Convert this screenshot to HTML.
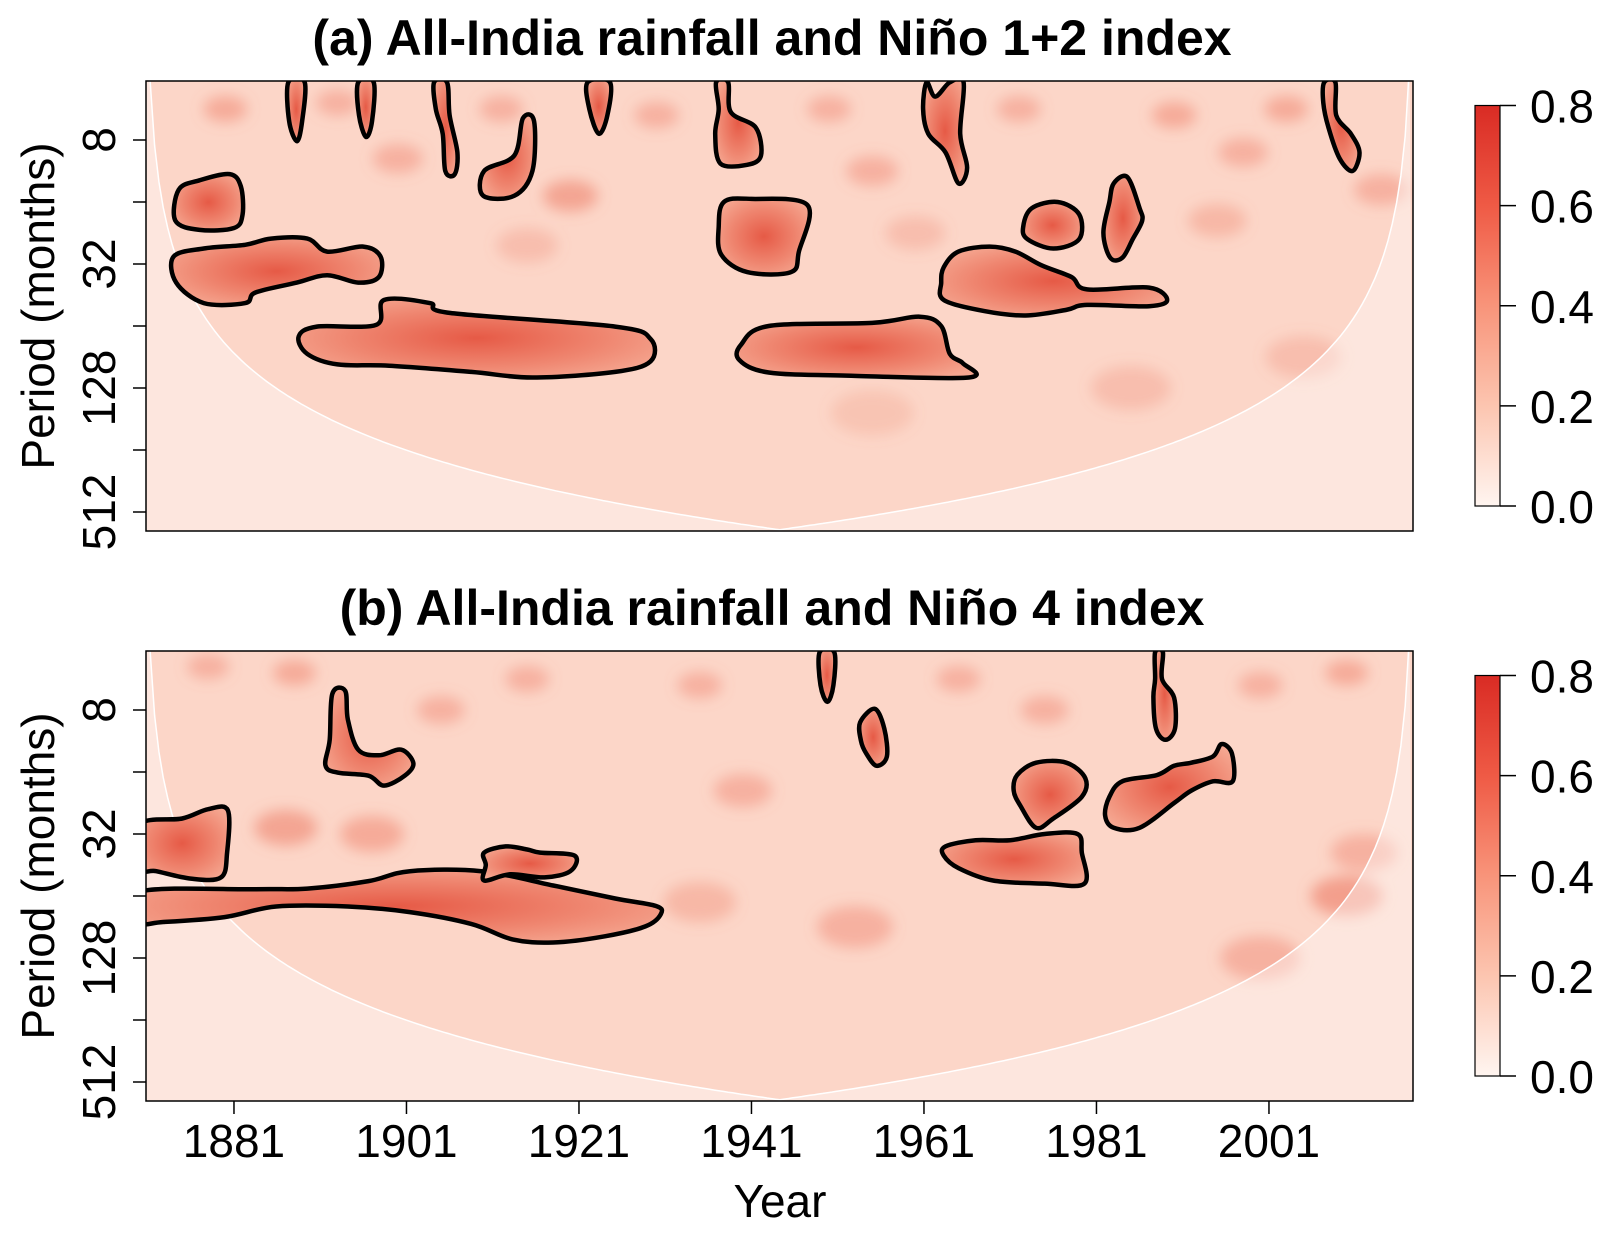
<!DOCTYPE html>
<html><head><meta charset="utf-8"><style>
body{margin:0;background:#fff;overflow:hidden;}
svg{display:block;font-family:"Liberation Sans",sans-serif;}
</style></head><body>
<svg id="chart" width="1610" height="1235" viewBox="0 0 1610 1235">
<defs>
<radialGradient id="blobFill" cx="50%" cy="50%" r="60%">
<stop offset="0" stop-color="#e65a46"/><stop offset="0.6" stop-color="#ef8670"/><stop offset="1" stop-color="#f5a690"/>
</radialGradient>
<linearGradient id="cbar" x1="0" y1="1" x2="0" y2="0">
<stop offset="0" stop-color="#fff5f0"/><stop offset="0.25" stop-color="#fcc5b0"/><stop offset="0.5" stop-color="#f8947a"/><stop offset="0.75" stop-color="#ef5a45"/><stop offset="1" stop-color="#d92b24"/>
</linearGradient>
<filter id="blur" x="-50%" y="-50%" width="200%" height="200%"><feGaussianBlur stdDeviation="7"/></filter>
</defs>
<g id="root"></g>
</svg>
<script>
// ---- data ----
const xTickYears = [1881, 1901, 1921, 1941, 1961, 1981, 2001];
const yTickPeriods = [8, 16, 32, 64, 128, 256, 512];
const yTickLabels = ["8", "", "32", "", "128", "", "512"];
const colorTicks = [0.0, 0.2, 0.4, 0.6, 0.8];
const panelTitles = ["(a) All-India rainfall and Niño 1+2 index", "(b) All-India rainfall and Niño 4 index"];
// significant-coherence contours: [year, log2(period months)]
const contoursA = [
 [[1874.6,3.8],[1877,3.65],[1880.5,3.55],[1881.8,3.75],[1882,4.2],[1881,4.42],[1877,4.45],[1874.2,4.3]],
 [[1874,4.88],[1877.5,4.75],[1882.3,4.69],[1885.3,4.59],[1889.5,4.59],[1891.8,4.8],[1896,4.72],[1898,4.88],[1897.8,5.21],[1895.4,5.3],[1891.8,5.18],[1888.3,5.3],[1883.5,5.46],[1882.3,5.63],[1877.5,5.63],[1874.3,5.3]],
 [[1888.5,6.17],[1890.6,6.01],[1897.5,5.98],[1898.4,5.58],[1903.7,5.63],[1906.1,5.79],[1925.2,6.01],[1929.3,6.21],[1929.3,6.57],[1925.2,6.74],[1915.6,6.83],[1908.5,6.74],[1899,6.64],[1893,6.62],[1889.5,6.45]],
 [[1887.3,2.07],[1889.2,2.07],[1888.9,2.7],[1888.3,3.02],[1887.4,2.7]],
 [[1895.4,2.07],[1897.2,2.07],[1897,2.7],[1896.3,2.95],[1895.5,2.6]],
 [[1904.2,2.07],[1905.7,2.07],[1906,2.6],[1906.9,3.2],[1906.6,3.55],[1905.5,3.5],[1905.2,2.9],[1904.4,2.5]],
 [[1910,3.5],[1913.5,3.25],[1914.5,2.65],[1915.8,2.7],[1915.6,3.5],[1913.5,3.9],[1909.9,3.9]],
 [[1922,2.07],[1924.6,2.07],[1924.3,2.6],[1923.3,2.9],[1922.2,2.5]],
 [[1936.9,2.07],[1938.3,2.07],[1938.6,2.55],[1941.5,2.8],[1942.1,3.25],[1940.5,3.4],[1937.4,3.38],[1936.8,2.9],[1937.2,2.5]],
 [[1937.8,4.0],[1941,3.95],[1947.5,4.05],[1946.5,4.8],[1945.6,5.13],[1940.5,5.13],[1937.5,4.85],[1937.2,4.4]],
 [[1939.8,6.3],[1943,6.0],[1955,5.95],[1960.5,5.85],[1963,6.0],[1964,6.45],[1965.5,6.6],[1966.2,6.83],[1952,6.8],[1943,6.75],[1939.6,6.55]],
 [[1961.3,2.07],[1962.3,2.3],[1964,2.07],[1965.6,2.07],[1965.2,2.9],[1966,3.45],[1965,3.7],[1963.5,3.2],[1961.5,2.9],[1960.9,2.5]],
 [[1963.3,5.05],[1965,4.8],[1968.6,4.72],[1971.6,4.8],[1974.6,5.02],[1978.1,5.21],[1979.9,5.41],[1987.1,5.38],[1989.2,5.58],[1987.1,5.68],[1979.9,5.66],[1977.5,5.74],[1972.8,5.83],[1968,5.76],[1963.3,5.58],[1963,5.3]],
 [[1972.5,4.4],[1973.5,4.1],[1976.5,4.0],[1979,4.2],[1979,4.6],[1976,4.75],[1973,4.6]],
 [[1983,3.7],[1984.6,3.6],[1986,4.1],[1986.3,4.3],[1985.2,4.6],[1984,4.9],[1982.6,4.9],[1981.8,4.5],[1982.5,4.0]],
 [[2007.4,2.07],[2008.7,2.07],[2008.8,2.6],[2010.5,2.9],[2011.5,3.2],[2010.7,3.5],[2009.2,3.3],[2007.9,2.8],[2007.3,2.4]]
];
const contoursB = [
 [[1948.9,2.07],[1950.6,2.07],[1950.5,2.6],[1949.8,2.87],[1949,2.6]],
 [[1953.6,3.2],[1955.3,2.98],[1956.4,3.3],[1956.7,3.75],[1955.5,3.9],[1954.3,3.7],[1953.7,3.5]],
 [[1987.8,2.07],[1988.7,2.07],[1988.6,2.5],[1990,2.8],[1990.1,3.3],[1989,3.48],[1987.9,3.3],[1987.6,2.8],[1987.8,2.5]],
 [[1892.4,2.74],[1893.9,2.69],[1894.2,3.15],[1895.4,3.64],[1897.8,3.73],[1900.4,3.64],[1901.8,3.86],[1900.8,4.06],[1898.4,4.22],[1896.6,4.06],[1893,4.01],[1891.6,3.89],[1892.1,3.48]],
 [[1870,4.85],[1875,4.75],[1878,4.6],[1880.3,4.62],[1880.2,5.3],[1879.5,5.7],[1876,5.72],[1872,5.6],[1870,5.55]],
 [[1870,5.93],[1883.5,5.89],[1889.5,5.88],[1896.6,5.76],[1901.4,5.6],[1909.7,5.6],[1918,5.83],[1925.2,6.04],[1929.9,6.16],[1930.5,6.29],[1928.7,6.49],[1924,6.65],[1918,6.75],[1913.3,6.7],[1908.5,6.45],[1901.4,6.26],[1894.2,6.17],[1885.9,6.17],[1879.9,6.34],[1872.8,6.42],[1870,6.42]],
 [[1910,5.3],[1912.5,5.2],[1915,5.25],[1916.5,5.3],[1920.5,5.35],[1920,5.6],[1917,5.7],[1913,5.65],[1910,5.75],[1910.2,5.5]],
 [[1963.5,5.2],[1967,5.1],[1971,5.1],[1975,5.0],[1978.8,5.0],[1979.3,5.3],[1979.6,5.8],[1975,5.8],[1969,5.75],[1965,5.55],[1963.3,5.35]],
 [[1971.8,4.05],[1974,3.85],[1977.5,3.85],[1979.7,4.1],[1979.3,4.4],[1976,4.75],[1974,4.9],[1972.2,4.55],[1971.4,4.3]],
 [[1982.5,4.4],[1984,4.15],[1988,4.05],[1990,3.9],[1992,3.85],[1994.5,3.75],[1995.5,3.55],[1996.7,3.7],[1996.8,4.15],[1994.5,4.15],[1992,4.3],[1990,4.5],[1986,4.9],[1983,4.9],[1982,4.7]]
];
// background coherence hotspots: [year, log2 period, coherence]
const hotspotsA = [[1880,2.5,0.35],[1893,2.4,0.3],[1900,3.3,0.3],[1912,2.5,0.3],[1920,3.9,0.4],[1930,2.6,0.3],[1950,2.5,0.3],[1955,3.5,0.3],[1972,2.5,0.3],[1990,2.6,0.35],[1998,3.2,0.3],[2003,2.5,0.35],[2014,3.8,0.3],[1960,4.5,0.2],[1995,4.3,0.25],[1985,7.0,0.2],[1955,7.4,0.15],[2005,6.5,0.2],[1915,4.7,0.2]];
const hotspotsB = [[1878,2.3,0.3],[1888,2.4,0.35],[1905,3.0,0.3],[1915,2.5,0.3],[1935,2.6,0.3],[1965,2.5,0.3],[1975,3.0,0.3],[2000,2.6,0.3],[2010,2.4,0.35],[1887,4.9,0.4],[1897,5.0,0.35],[1940,4.3,0.3],[1953,6.5,0.3],[1935,6.1,0.25],[2010,6.0,0.45],[2000,7.0,0.3],[2012,5.3,0.3]];

// ---- layout ----
const NS = "http://www.w3.org/2000/svg";
const root = document.getElementById("root");
const PL = 146, PR = 1413, PT = [81, 651], PH = 450;
const Y0 = 1870.8, Y1 = 2017.7;
function X(yr){ return PL + (yr - Y0) / (Y1 - Y0) * (PR - PL); }
function Yp(oct, p){ return PT[p] + 59 + (oct - 3) * 62; }
function mk(tag, attrs, parent){ const e = document.createElementNS(NS, tag); for (const k in attrs) e.setAttribute(k, attrs[k]); (parent||root).appendChild(e); return e; }
function smooth(pts){
  const n = pts.length; let d = "";
  for (let i = 0; i < n; i++){
    const p0 = pts[(i-1+n)%n], p1 = pts[i], p2 = pts[(i+1)%n], p3 = pts[(i+2)%n];
    if (i === 0) d += "M" + p1[0].toFixed(1) + "," + p1[1].toFixed(1);
    const c1 = [p1[0] + (p2[0]-p0[0])/6, p1[1] + (p2[1]-p0[1])/6];
    const c2 = [p2[0] - (p3[0]-p1[0])/6, p2[1] - (p3[1]-p1[1])/6];
    d += "C" + c1.map(v=>v.toFixed(1)).join(",") + " " + c2.map(v=>v.toFixed(1)).join(",") + " " + p2[0].toFixed(1) + "," + p2[1].toFixed(1);
  }
  return d + "Z";
}
function text(str, x, y, size, attrs, name){
  const t = mk("text", Object.assign({x:x, y:y, "font-size":size, fill:"#000"}, attrs||{}));
  t.textContent = str;
  
  
  return t;
}

[ [contoursA, hotspotsA], [contoursB, hotspotsB] ].forEach(function(pair, p){
  const contours = pair[0], hots = pair[1];
  const top = PT[p], bot = top + PH;
  const g = mk("g", {});
  
  
  const cid = "clip" + p;
  const cp = mk("clipPath", {id: cid}, g); mk("rect", {x:PL, y:top, width:PR-PL, height:PH}, cp);
  const inner = mk("g", {"clip-path":"url(#"+cid+")"}, g);
  const bg = mk("rect", {x:PL, y:top, width:PR-PL, height:PH, fill:"#fcd6c8"}, inner);
  
  
  const hg = mk("g", {filter:"url(#blur)"}, inner);
  hots.forEach(function(h){
    const e = mk("ellipse", {cx:X(h[0]), cy:Yp(h[1], p), rx:12 + h[1]*4, ry:8 + h[1]*2, fill:"#ee7f68", "fill-opacity":h[2]*1.4}, hg);
    
    
  });
  // cone of influence
  let coi = [];
  for (let yr = Y0; yr <= Y1 + 0.01; yr += 0.5){
    const d = Math.max(0.2, Math.min(yr - Y0, Y1 - yr));
    coi.push([X(yr), Math.min(bot + 40, Yp(Math.log2(8.5 * d), p))]);
  }
  let d = "M" + PL + "," + top + " " + coi.map(c => "L" + c[0].toFixed(1) + "," + c[1].toFixed(1)).join(" ");
  const shade = mk("path", {d: d + " L" + PR + "," + (bot+5) + " L" + PL + "," + (bot+5) + "Z", fill:"#ffffff", "fill-opacity":"0.4"}, inner);
  
  
  const coiLine = mk("path", {d: "M" + coi.map(c => c[0].toFixed(1) + "," + c[1].toFixed(1)).join(" L"), fill:"none", stroke:"#fff", "stroke-width":1.5}, inner);
  
  
  contours.forEach(function(c){
    const pts = c.map(q => [X(q[0]), Yp(q[1], p)]);
    const path = mk("path", {d: smooth(pts), fill:"url(#blobFill)", stroke:"#000", "stroke-width":4.5, "stroke-linejoin":"round"}, inner);
    
    
  });
  const frame = mk("rect", {x:PL, y:top, width:PR-PL, height:PH, fill:"none", stroke:"#000", "stroke-width":1.5}, g);
  
  
  // y axis
  yTickPeriods.forEach(function(per, i){
    const y = Yp(Math.log2(per), p);
    const tk = mk("line", {x1:PL-13, x2:PL, y1:y, y2:y, stroke:"#000", "stroke-width":1.5}, g);
    
    
    if (yTickLabels[i]) text(yTickLabels[i], 115, y, 46, {"text-anchor":"middle", transform:"rotate(-90 115 " + y + ")"}, 'y-tick-label');
  });
  text("Period (months)", 54, top + PH/2, 46, {"text-anchor":"middle", transform:"rotate(-90 54 " + (top + PH/2) + ")"}, 'y-axis-title');
  text(panelTitles[p], 772, p === 0 ? 55 : 625, 50, {"text-anchor":"middle", "font-weight":"bold"}, 'panel-title');
  // color bar
  const cbT = top + 24.5, cbB = top + 425, cbL = 1475, cbR = 1500;
  const cb = mk("rect", {x:cbL, y:cbT, width:cbR-cbL, height:cbB-cbT, fill:"url(#cbar)", stroke:"#000", "stroke-width":1.2}, g);
  
  
  colorTicks.forEach(function(v){
    const y = cbB - v / 0.8 * (cbB - cbT);
    const tk = mk("line", {x1:cbR, x2:cbR+16, y1:y, y2:y, stroke:"#000", "stroke-width":1.5}, g);
    
    
    text(v.toFixed(1), 1530, y + 17, 46, {}, 'colorbar-label');
  });
  if (p === 1){
    xTickYears.forEach(function(yr){
      const x = X(yr);
      const tk = mk("line", {x1:x, x2:x, y1:bot, y2:bot+13, stroke:"#000", "stroke-width":1.5}, g);
      
      
      text(String(yr), x, 1157, 46, {"text-anchor":"middle"}, 'x-tick-label');
    });
    text("Year", 780, 1217, 46, {"text-anchor":"middle"}, 'x-axis-title');
  }
});
</script>
</body></html>
